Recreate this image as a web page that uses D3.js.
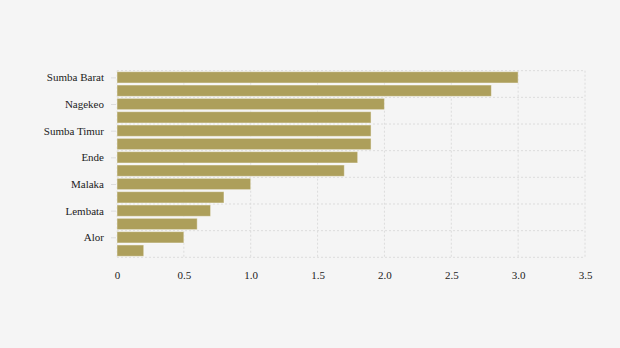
<!DOCTYPE html>
<html><head><meta charset="utf-8">
<script src="https://cdn.jsdelivr.net/npm/d3@7"></script>
<style>html,body{margin:0;padding:0;background:#f5f5f5;}svg{display:block;}</style>
</head><body><div id="chart"></div>
<script>
const categories = ["Sumba Barat","Manggarai","Nagekeo","Ngada","Sumba Timur","Sikka","Ende","Flores Timur","Malaka","Belu","Lembata","Rote Ndao","Alor","Sabu Raijua"];
const values = [3.0, 2.8, 2.0, 1.9, 1.9, 1.9, 1.8, 1.7, 1.0, 0.8, 0.7, 0.6, 0.5, 0.2];
const xTicks = [0, 0.5, 1.0, 1.5, 2.0, 2.5, 3.0, 3.5];
const xTickLabels = ["0","0.5","1.0","1.5","2.0","2.5","3.0","3.5"];

const W = 620, H = 348;
const mLeft = 117, mRight = 585, mTop = 70.7, mBottom = 257.3;
const svg = d3.select("#chart").append("svg").attr("width", W).attr("height", H);
svg.append("rect").attr("width", W).attr("height", H).attr("fill", "#f5f5f5");

const x = d3.scaleLinear().domain([0, 3.5]).range([mLeft, mRight]);
const y = d3.scaleBand().domain(categories).range([mTop, mBottom]).paddingInner(0).paddingOuter(0);
const font = "'Liberation Serif','Times New Roman',serif";
const grid = "#dcdcdc";

// vertical grid lines
svg.append("g").selectAll("line").data(xTicks).join("line")
  .attr("x1", d => x(d)).attr("x2", d => x(d))
  .attr("y1", mTop).attr("y2", mBottom)
  .attr("stroke", grid).attr("stroke-width", 1).attr("stroke-dasharray", "2,2");

// horizontal grid lines at every other category boundary
const hLines = categories.filter((c, i) => i % 2 === 0).map(c => y(c)).concat([mBottom]);
svg.append("g").selectAll("line").data(hLines).join("line")
  .attr("x1", mLeft).attr("x2", mRight)
  .attr("y1", d => d).attr("y2", d => d)
  .attr("stroke", grid).attr("stroke-width", 1).attr("stroke-dasharray", "2,2");

// bars
svg.append("g").selectAll("rect").data(categories).join("rect")
  .attr("x", x(0))
  .attr("y", d => y(d) + 1)
  .attr("width", (d, i) => x(values[i]) - x(0))
  .attr("height", y.bandwidth() - 2)
  .attr("fill", "#ad9f5b")
  .attr("stroke", "rgba(255,255,255,0.45)")
  .attr("stroke-width", 1);

// y axis labels (every other)
const yAxis = d3.axisLeft(y).tickValues(categories.filter((c, i) => i % 2 === 0))
  .tickSize(5).tickPadding(7);
const gy = svg.append("g").attr("transform", `translate(${mLeft - 1},0.5)`).call(yAxis);
gy.select(".domain").remove();
gy.selectAll(".tick line").attr("stroke", "#dddddd");
gy.selectAll(".tick text").attr("font-family", font).attr("font-size", 11).attr("fill", "#222");

// x axis labels
const xAxis = d3.axisBottom(x).tickValues(xTicks).tickFormat((d, i) => xTickLabels[i]).tickSize(0).tickPadding(14);
const gx = svg.append("g").attr("transform", `translate(0,${mBottom})`).call(xAxis);
gx.select(".domain").remove();
gx.selectAll(".tick text").attr("font-family", font).attr("font-size", 11).attr("fill", "#222");
</script></body></html>
